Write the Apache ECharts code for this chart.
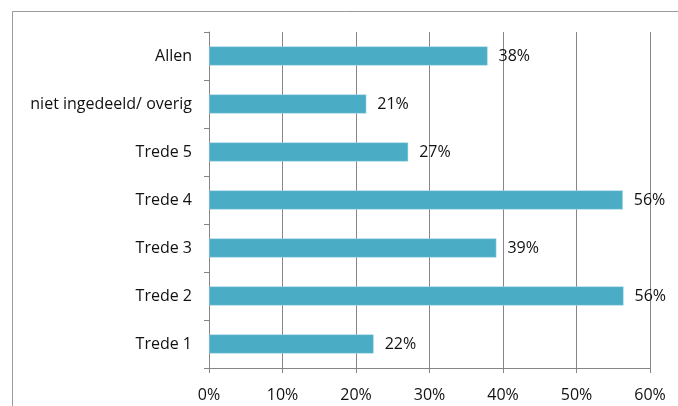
<!DOCTYPE html>
<html>
<head>
<meta charset="utf-8">
<script src="https://cdn.jsdelivr.net/npm/echarts@6/dist/echarts.min.js"></script>
<style>
  html, body { margin: 0; padding: 0; background: #fff; }
  #chart { width: 678px; height: 406px; }
</style>
</head>
<body>
<div id="chart"></div>
<script>
// Categories listed bottom-to-top (category axis on y starts at the bottom)
const categories = ['Trede 1', 'Trede 2', 'Trede 3', 'Trede 4', 'Trede 5', 'niet ingedeeld/ overig', 'Allen'];
const shares = [0.224, 0.564, 0.391, 0.563, 0.271, 0.214, 0.379];
const tickValues = [0, 0.1, 0.2, 0.3, 0.4, 0.5, 0.6];

const fontFamily = '"Open Sans", Lato, "Noto Sans", sans-serif';
const pct = v => Math.round(v * 100) + '%';

const chart = echarts.init(document.getElementById('chart'), null, { renderer: 'canvas' });
chart.setOption({
  animation: false,
  backgroundColor: '#ffffff',
  graphic: [{
    type: 'rect',
    shape: { x: 12.5, y: 11.5, width: 700, height: 420 },
    style: { fill: 'none', stroke: '#9a9a9a', lineWidth: 1 },
    silent: true,
    z: -1
  }],
  grid: { left: 209, right: 28, top: 32, bottom: 38, containLabel: false },
  xAxis: {
    type: 'value',
    min: tickValues[0],
    max: tickValues[tickValues.length - 1],
    interval: 0.1,
    axisLine: { show: true, lineStyle: { color: '#868686', width: 1 } },
    axisTick: { show: true, length: 5, lineStyle: { color: '#868686' } },
    splitLine: { show: true, lineStyle: { color: '#868686', width: 1 } },
    axisLabel: {
      formatter: pct,
      color: '#111111',
      fontFamily: fontFamily,
      fontSize: 16,
      margin: 19
    }
  },
  yAxis: {
    type: 'category',
    data: categories,
    axisLine: { show: true, lineStyle: { color: '#868686', width: 1 } },
    axisTick: { show: true, length: 5, alignWithLabel: false, lineStyle: { color: '#868686' } },
    axisLabel: {
      color: '#111111',
      fontFamily: fontFamily,
      fontSize: 16,
      margin: 17
    }
  },
  series: [{
    type: 'bar',
    data: shares,
    barWidth: '40%',
    itemStyle: { color: '#4BACC6', borderColor: '#a9dbe8', borderWidth: 0.5 },
    label: {
      show: true,
      position: 'right',
      distance: 11,
      formatter: p => pct(p.value),
      color: '#111111',
      fontFamily: fontFamily,
      fontSize: 16
    }
  }]
});
</script>
</body>
</html>
